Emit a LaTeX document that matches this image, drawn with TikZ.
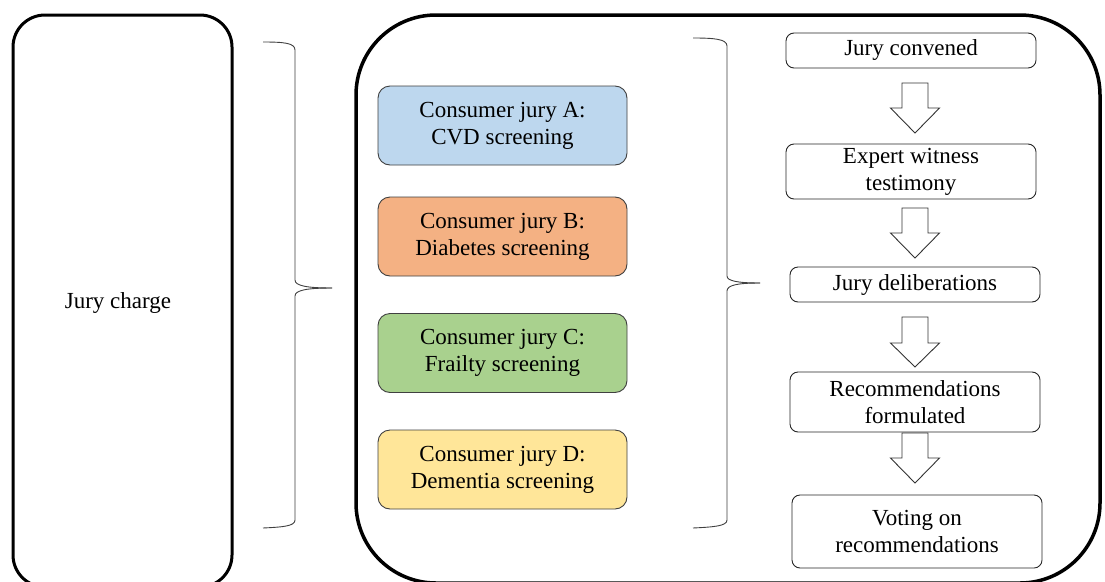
\documentclass[tikz,border=0pt]{standalone}
\usepackage{fontspec}
\setmainfont{Liberation Serif}
\newfontfamily\timesfam{Liberation Serif}
\definecolor{juryA}{HTML}{BDD7EE}
\definecolor{juryB}{HTML}{F4B183}
\definecolor{juryC}{HTML}{A9D18E}
\definecolor{juryD}{HTML}{FFE699}
\definecolor{edgegray}{HTML}{404040}
\tikzset{
  every node/.style={font=\timesfam\fontsize{23}{27}\selectfont, text=black},
  bigframe/.style={draw=black, line width=3.5pt, rounded corners=80pt},
  leftframe/.style={draw=black, line width=3pt, rounded corners=32pt},
  jurybox/.style={draw=edgegray, line width=0.9pt, rounded corners=12pt,
    minimum width=249pt, minimum height=79pt, align=center, inner sep=0pt},
  stepbox/.style={draw=black!85, line width=0.9pt, rounded corners=8pt,
    minimum width=250pt, align=center, inner sep=0pt},
  bracestyle/.style={draw=black!75, line width=0.9pt},
  flowarrow/.style={draw=black!80, line width=0.9pt, fill=white, line join=miter},
}
\newcommand\blockdown[4]{% x, shaft top, head start, tip
  \draw[flowarrow] (#1-13,#2) -- (#1+13,#2) -- (#1+13,#3) -- (#1+24.5,#3)
    -- (#1,#4) -- (#1-24.5,#3) -- (#1-13,#3) -- cycle;}
\begin{document}
\begin{tikzpicture}[x=1pt,y=-1pt]
\useasboundingbox (0,0) rectangle (1105,581);
\fill[white] (0,0) rectangle (1105,581);

% left frame
\draw[leftframe] (13,15) rectangle (232,587);
\node (charge) at (118,303) {Jury charge};

% big frame
\draw[bigframe] (356,15) rectangle (1100,583);

% first brace
\draw[bracestyle] (263,42) .. controls (284,42) and (295,43) .. (295,50)
  -- (295,280) .. controls (295,286) and (308,288) .. (332,288);
\draw[bracestyle] (332,288) .. controls (308,288) and (295,290) .. (295,296)
  -- (295,520) .. controls (295,526) and (284,527) .. (263,528);

% second brace
\draw[bracestyle] (693,38) .. controls (714,38) and (727,39) .. (727,46)
  -- (727,276) .. controls (727,281) and (738,283) .. (760,283);
\draw[bracestyle] (760,283) .. controls (738,283) and (727,285) .. (727,291)
  -- (727,520) .. controls (727,526) and (714,527) .. (693,528);

% consumer juries
\node[jurybox, fill=juryA] (ja) at (502.5,125.5) {Consumer jury A:\\CVD screening};
\node[jurybox, fill=juryB] (jb) at (502.5,236.5) {Consumer jury B:\\Diabetes screening};
\node[jurybox, fill=juryC] (jc) at (502.5,353) {Consumer jury C:\\Frailty screening};
\node[jurybox, fill=juryD] (jd) at (502.5,469.5) {Consumer jury D:\\Dementia screening};

% steps
\node[stepbox, minimum height=35pt] (s1) at (911,50.5) {Jury convened};
\node[stepbox, minimum height=55pt] (s2) at (911,171.5) {Expert witness\\testimony};
\node[stepbox, minimum height=35pt] (s3) at (915,284.5) {Jury deliberations};
\node[stepbox, minimum height=60pt] (s4) at (915,402) {Recommendations\\formulated};
\node[stepbox, minimum height=73pt] (s5) at (917,531.5) {Voting on\\recommendations};

% block arrows
\blockdown{915}{83}{108}{133}
\blockdown{915}{208}{233}{258}
\blockdown{915}{317}{343}{367}
\blockdown{915}{433}{458}{483}
\end{tikzpicture}
\end{document}
